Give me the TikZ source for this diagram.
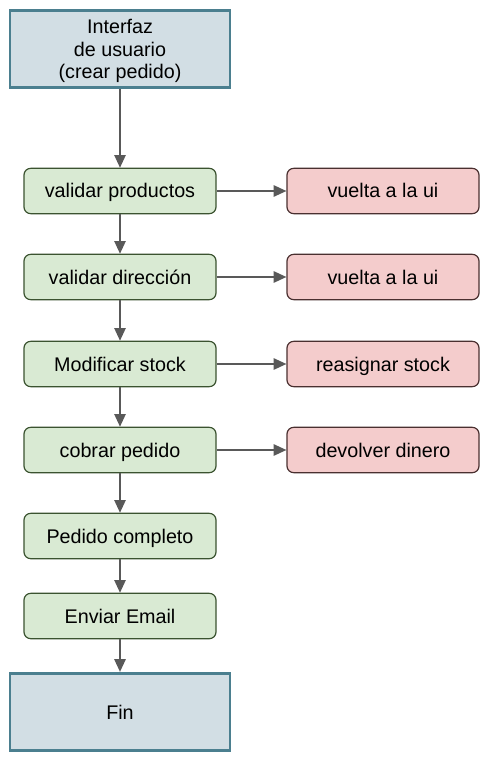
\documentclass[tikz,border=0pt]{standalone}
\usepackage{fontspec}
\setmainfont{Liberation Sans}
\usetikzlibrary{arrows.meta,positioning}
\definecolor{uifill}{HTML}{D2DEE4}
\definecolor{uiline}{HTML}{4B7F8F}
\definecolor{okfill}{HTML}{D9EAD3}
\definecolor{okline}{HTML}{3B5330}
\definecolor{badfill}{HTML}{F4CCCC}
\definecolor{badline}{HTML}{4A3030}
\definecolor{arrowgray}{HTML}{595959}
\tikzset{
  endbox/.style={draw=uiline, fill=uifill, line width=2.2pt, minimum width=165pt, minimum height=58pt, align=center, text depth=0pt, font=\fontsize{14.8}{17}\selectfont},
  stepbox/.style={draw=okline, fill=okfill, line width=0.9pt, rounded corners=5pt, minimum width=144pt, minimum height=34pt, text height=12.5pt, text depth=2pt, font=\fontsize{14.8}{17}\selectfont},
  failbox/.style={stepbox, draw=badline, fill=badfill},
  flow/.style={draw=arrowgray, line width=1.1pt, -{Triangle[length=9.5pt,width=8.5pt]}}
}
\begin{document}
\begin{tikzpicture}[x=0.75pt, y=-0.75pt]
  \useasboundingbox (0,0) rectangle (486,766);
  % main column
  \node[endbox] (ui) at (120,49) {Interfaz\\de usuario\\(crear pedido)};
  \node[stepbox] (prod) at (120,191) {validar productos};
  \node[stepbox] (dir) at (120,277) {validar dirección};
  \node[stepbox] (stock) at (120,364) {Modificar stock};
  \node[stepbox] (cobro) at (120,450) {cobrar pedido};
  \node[stepbox] (ok) at (120,536) {Pedido completo};
  \node[stepbox] (mail) at (120,616) {Enviar Email};
  \node[endbox] (fin) at (120,712) {Fin};
  % rollbacks
  \node[failbox] (back1) at (383,191) {vuelta a la ui};
  \node[failbox] (back2) at (383,277) {vuelta a la ui};
  \node[failbox] (restock) at (383,364) {reasignar stock};
  \node[failbox] (refund) at (383,450) {devolver dinero};
  % arrows
  \draw[flow] (ui) -- (prod);
  \draw[flow] (prod) -- (dir);
  \draw[flow] (dir) -- (stock);
  \draw[flow] (stock) -- (cobro);
  \draw[flow] (cobro) -- (ok);
  \draw[flow] (ok) -- (mail);
  \draw[flow] (mail) -- (fin);
  \draw[flow] (prod) -- (back1);
  \draw[flow] (dir) -- (back2);
  \draw[flow] (stock) -- (restock);
  \draw[flow] (cobro) -- (refund);
\end{tikzpicture}
\end{document}
